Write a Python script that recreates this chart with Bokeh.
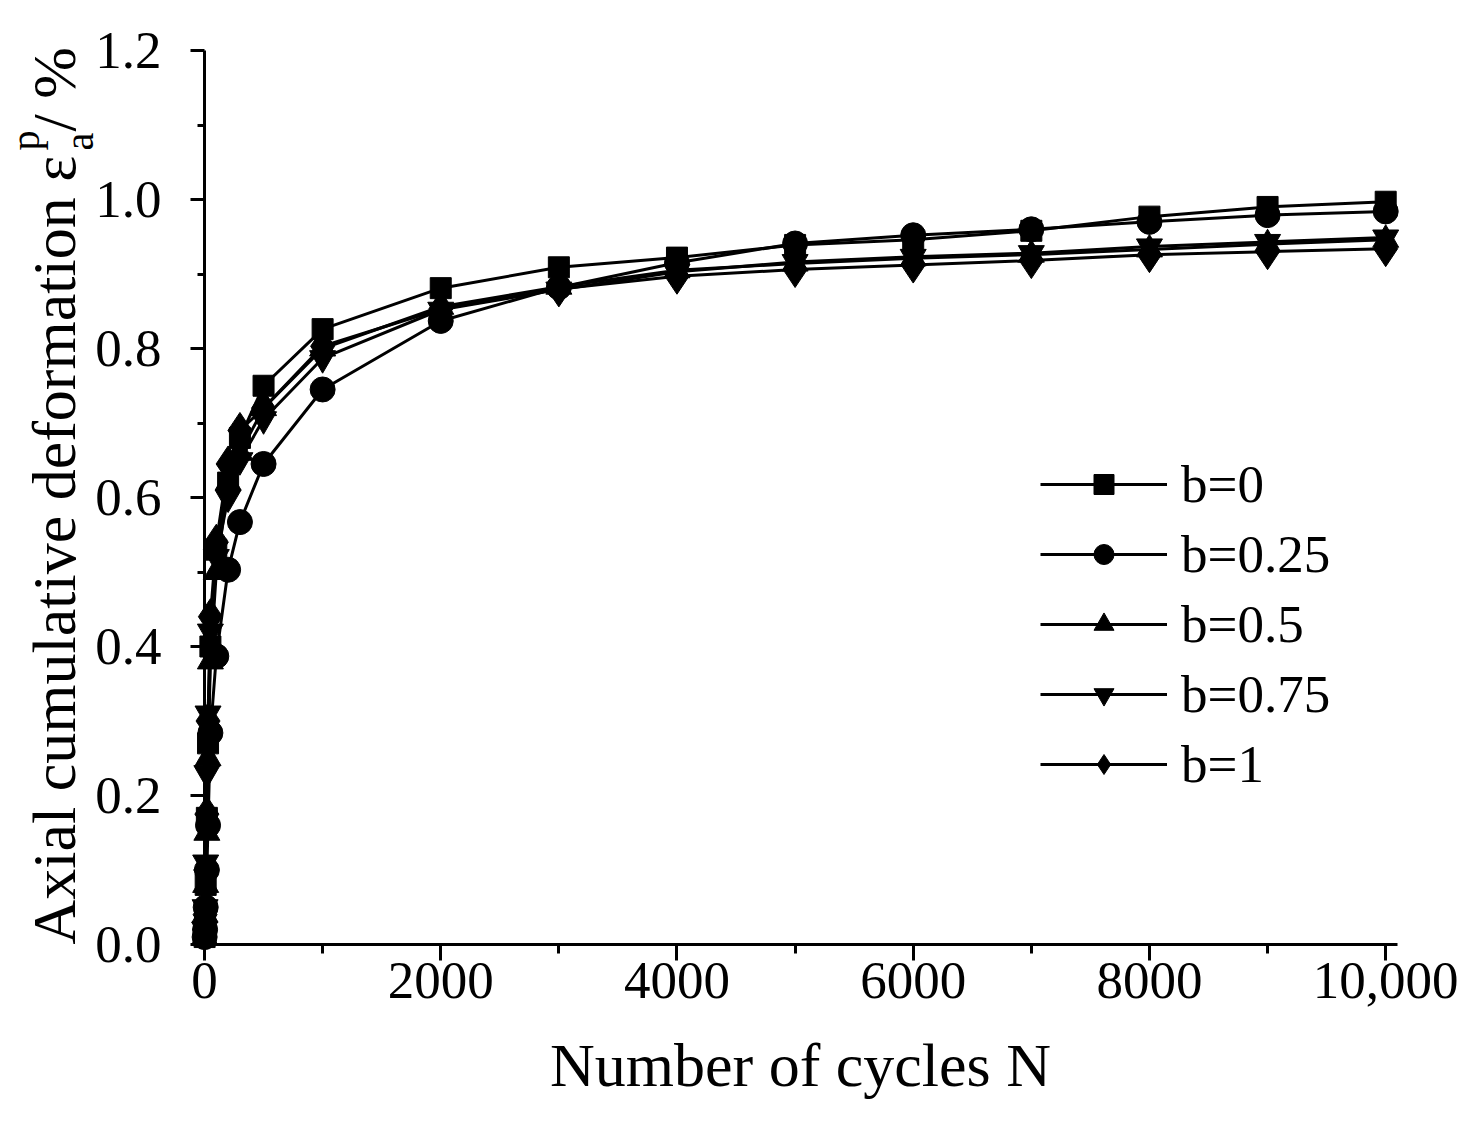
import math
from bokeh.plotting import figure
from bokeh.models import Range1d, Label, Legend, LegendItem, NumeralTickFormatter, FixedTicker
from bokeh.embed import file_html
from bokeh.resources import INLINE

# cycles and axial cumulative deformation (%) for each b value
cycles = [1, 5, 10, 20, 30, 50, 100, 200, 300, 500, 1000, 2000, 3000, 4000,
          5000, 6000, 7000, 8000, 9000, 10000]
b_0 = [0.01, 0.03, 0.08, 0.17, 0.27, 0.40, 0.53, 0.62, 0.68, 0.75, 0.826,
       0.881, 0.909, 0.922, 0.939, 0.946, 0.958, 0.977, 0.990, 0.997]
b_025 = [0.01, 0.02, 0.05, 0.10, 0.16, 0.284, 0.387, 0.503, 0.567, 0.645,
         0.745, 0.837, 0.882, 0.915, 0.941, 0.952, 0.960, 0.970, 0.979, 0.984]
b_05 = [0.01, 0.04, 0.08, 0.15, 0.25, 0.38, 0.50, 0.62, 0.66, 0.72, 0.80,
        0.856, 0.883, 0.905, 0.914, 0.921, 0.926, 0.933, 0.940, 0.946]
b_075 = [0.02, 0.05, 0.11, 0.23, 0.31, 0.42, 0.52, 0.60, 0.65, 0.705, 0.787,
         0.852, 0.879, 0.903, 0.916, 0.923, 0.928, 0.937, 0.943, 0.949]
b_1 = [0.02, 0.04, 0.10, 0.175, 0.30, 0.44, 0.54, 0.645, 0.69, 0.72, 0.803,
       0.853, 0.880, 0.897, 0.906, 0.912, 0.918, 0.926, 0.930, 0.934]

labels = ["b=0", "b=0.25", "b=0.5", "b=0.75", "b=1"]
series = [b_0, b_025, b_05, b_075, b_1]

x_ticks = [0, 2000, 4000, 6000, 8000, 10000]
x_minor = [1000, 3000, 5000, 7000, 9000]
y_ticks = [0.0, 0.2, 0.4, 0.6, 0.8, 1.0, 1.2]
y_minor = [0.1, 0.3, 0.5, 0.7, 0.9, 1.1]

FONT = "Liberation Serif"
W, H = 1463, 1111

# frame covers the whole canvas; both axes are pinned at 0 so the
# titles (labels) can sit inside the frame
X0_PX, PX_PER_N = 204, 1193.0 / 10100.0
Y0_PX, PX_PER_V = 944, 894.0 / 1.2


def sx(px):
    return (px - X0_PX) / PX_PER_N


def sy(py):
    return (Y0_PX - py) / PX_PER_V


p = figure(
    width=W,
    height=H,
    x_range=Range1d(sx(0), sx(W)),
    y_range=Range1d(sy(H), sy(0)),
    output_backend="svg",
    toolbar_location=None,
    min_border=0,
)
p.xgrid.visible = False
p.ygrid.visible = False
p.outline_line_color = None

# axes styling (ticks outward)
for ax in (p.xaxis[0], p.yaxis[0]):
    ax.axis_line_width = 3
    ax.major_tick_line_width = 3
    ax.minor_tick_line_width = 3
    ax.major_tick_in = 0
    ax.minor_tick_in = 0
    ax.major_label_text_font = FONT
    ax.major_label_text_font_size = "53px"
    ax.major_label_text_color = "black"
    ax.axis_line_color = "black"
    ax.major_tick_line_color = "black"
    ax.minor_tick_line_color = "black"

p.yaxis.fixed_location = 0
p.xaxis.fixed_location = 0
p.xaxis.bounds = (0, 10100)
p.yaxis.bounds = (0, 1.2)
p.xaxis.ticker = FixedTicker(ticks=x_ticks, minor_ticks=x_minor)
p.yaxis.ticker = FixedTicker(ticks=y_ticks, minor_ticks=y_minor)
p.xaxis.major_tick_out = 16
p.xaxis.minor_tick_out = 9
p.yaxis.major_tick_out = 14
p.yaxis.minor_tick_out = 7
p.xaxis.major_label_standoff = 2
p.yaxis.major_label_standoff = 29
p.xaxis.formatter = NumeralTickFormatter(format="0")
p.xaxis.major_label_overrides = {10000: "10,000"}
p.yaxis.formatter = NumeralTickFormatter(format="0.0")

# axis titles as labels (y title with superscript p / subscript a)
p.add_layout(Label(
    x=sx(800), y=sy(1064), text="Number of cycles N",
    text_align="center", text_baseline="middle",
    text_font=FONT, text_font_size="62px", text_color="black",
))
title_bits = [
    ("Axial cumulative deformation \u03b5", 53, 944, "62px"),
    ("p", 25, 150, "40px"),
    ("a", 79, 150, "40px"),
    ("/ %", 53, 131, "62px"),
]
for txt, px, py, fs in title_bits:
    p.add_layout(Label(
        x=sx(px), y=sy(py), text=txt,
        angle=math.pi / 2, text_align="left", text_baseline="middle",
        text_font=FONT, text_font_size=fs, text_color="black",
    ))

markers = [
    dict(marker="square", size=21),
    dict(marker="circle", size=25),
    dict(marker="triangle", size=26),
    dict(marker="inverted_triangle", size=26),
    dict(marker="diamond", size=36),
]

items = []
for name, vals, m in zip(labels, series, markers):
    ln = p.line(cycles, vals, line_color="black", line_width=3)
    sc = p.scatter(cycles, vals, marker=m["marker"], size=m["size"],
                   fill_color="black", line_color="black")
    items.append(LegendItem(label=name, renderers=[ln, sc]))

legend = Legend(
    items=items,
    location=(1040, H - 794),
    glyph_width=127,
    glyph_height=50,
    label_height=50,
    spacing=10,
    padding=0,
    margin=0,
    label_standoff=14,
    label_text_font=FONT,
    label_text_font_size="53px",
    label_text_color="black",
    border_line_color=None,
    background_fill_alpha=0,
)
p.add_layout(legend, "center")

open("out.html", "w").write(file_html(p, INLINE))
